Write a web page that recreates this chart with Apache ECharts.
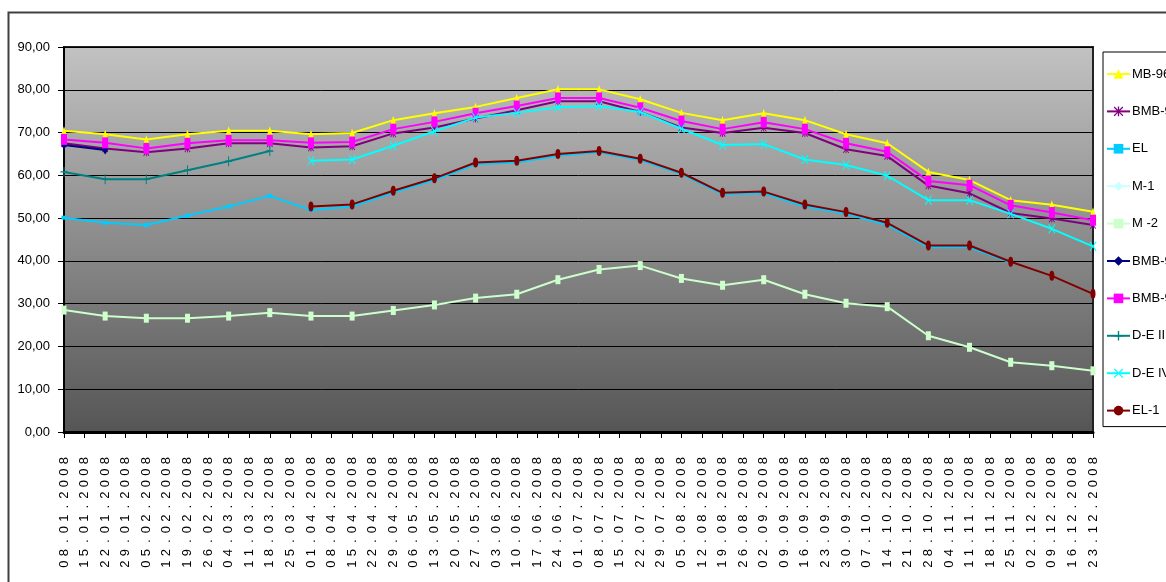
<!DOCTYPE html>
<html><head><meta charset="utf-8">
<script src="https://cdn.jsdelivr.net/npm/echarts@6/dist/echarts.min.js"></script>
<style>html,body{margin:0;padding:0;background:#fff}#c{width:1166px;height:582px}</style>
</head><body><div id="c"></div>
<script>
// Tick labels on the category axis (weekly)
const dates = ['08.01.2008','15.01.2008','22.01.2008','29.01.2008','05.02.2008','12.02.2008','19.02.2008','26.02.2008',
'04.03.2008','11.03.2008','18.03.2008','25.03.2008','01.04.2008','08.04.2008','15.04.2008','22.04.2008','29.04.2008',
'06.05.2008','13.05.2008','20.05.2008','27.05.2008','03.06.2008','10.06.2008','17.06.2008','24.06.2008','01.07.2008',
'08.07.2008','15.07.2008','22.07.2008','29.07.2008','05.08.2008','12.08.2008','19.08.2008','26.08.2008','02.09.2008',
'09.09.2008','16.09.2008','23.09.2008','30.09.2008','07.10.2008','14.10.2008','21.10.2008','28.10.2008','04.11.2008',
'11.11.2008','18.11.2008','25.11.2008','02.12.2008','09.12.2008','16.12.2008','23.12.2008'];
// Measurement dates (every second week)
const sampleDates = ['08.01.2008','22.01.2008','05.02.2008','19.02.2008','04.03.2008','18.03.2008','01.04.2008','15.04.2008',
'29.04.2008','13.05.2008','27.05.2008','10.06.2008','24.06.2008','08.07.2008','22.07.2008','05.08.2008','19.08.2008',
'02.09.2008','16.09.2008','30.09.2008','14.10.2008','28.10.2008','11.11.2008','25.11.2008','09.12.2008','23.12.2008'];

const yTicks = [0,10,20,30,40,50,60,70,80,90];

const mb96  = [70.4,69.6,68.4,69.6,70.4,70.4,69.6,69.9,72.9,74.5,76.0,78.1,80.1,80.1,77.8,74.6,72.9,74.5,72.9,69.6,67.5,60.8,58.9,54.2,53.1,51.5];
const bmb95 = [67.5,66.3,65.4,66.3,67.5,67.5,66.5,66.8,69.8,71.2,73.3,75.2,77.3,77.3,74.8,71.2,69.9,71.1,69.9,66.1,64.5,57.6,55.8,51.2,49.9,48.4];
const el    = [50.1,48.9,48.4,50.6,52.7,55.2,51.9,52.7,56.0,58.9,62.6,63.0,64.6,65.4,63.6,60.3,55.6,55.8,52.7,51.0,48.4,43.2,43.2,39.6,null,null];
const m1    = [null,null,null,null,null,null,null,null,null,null,null,null,null,null,null,null,null,null,null,null,null,null,null,null,null,null];
const m2    = [28.5,27.1,26.6,26.6,27.1,27.9,27.1,27.1,28.4,29.7,31.3,32.2,35.6,38.0,38.9,35.9,34.3,35.6,32.2,30.1,29.3,22.5,19.8,16.3,15.5,14.3];
const bmb91 = [67.1,65.9,null,null,null,null,null,null,null,null,null,null,null,null,null,null,null,null,null,null,null,null,null,null,null,null];
const bmb98 = [68.4,67.6,66.3,67.5,68.2,68.2,67.6,67.8,70.8,72.5,74.5,76.2,78.1,78.1,75.8,72.7,70.8,72.4,70.8,67.5,65.5,58.7,57.7,53.0,51.3,49.5];
const de3   = [60.8,59.1,59.1,61.2,63.3,65.7,null,null,null,null,null,null,null,null,null,null,null,null,null,null,null,null,null,null,null,null];
const de4   = [null,null,null,null,null,null,63.4,63.7,66.9,70.3,73.5,74.6,75.9,76.2,74.8,70.9,67.1,67.3,63.7,62.4,59.9,54.2,54.2,51.0,47.5,43.4];
const el1   = [null,null,null,null,null,null,52.7,53.2,56.4,59.3,63.0,63.4,65.0,65.7,63.9,60.6,55.9,56.2,53.2,51.4,48.9,43.6,43.6,39.8,36.5,32.3];

const names = ['MB-96','BMB-95','EL','M-1','M -2','BMB-91','BMB-98','D-E III','D-E IV','EL-1'];
const values = [mb96,bmb95,el,m1,m2,bmb91,bmb98,de3,de4,el1];

const X_PATH = 'path://M0,0.9 L0.9,0 L5,4.1 L9.1,0 L10,0.9 L5.9,5 L10,9.1 L9.1,10 L5,5.9 L0.9,10 L0,9.1 L4.1,5 Z';
const STAR_PATH = X_PATH + ' M4.3,0 L5.7,0 L5.7,10 L4.3,10 Z';
const PLUS_PATH = 'path://M4.3,0 L5.7,0 L5.7,4.3 L10,4.3 L10,5.7 L5.7,5.7 L5.7,10 L4.3,10 L4.3,5.7 L0,5.7 L0,4.3 L4.3,4.3 Z';

const styles = [
  {color:'#FFFF00', symbol:'triangle', size:[6,9]},
  {color:'#800080', symbol:STAR_PATH, size:[6,8]},
  {color:'#00CCFF', symbol:'rect', size:[5,4]},
  {color:'#CCFFFF', symbol:'diamond', size:[6,9]},
  {color:'#CCFFCC', symbol:'rect', size:[5,9]},
  {color:'#000080', symbol:'diamond', size:[6,9]},
  {color:'#FF00FF', symbol:'rect', size:[6,11]},
  {color:'#008080', symbol:PLUS_PATH, size:[7,10]},
  {color:'#00FFFF', symbol:X_PATH, size:[7,10]},
  {color:'#800000', symbol:'circle', size:[5,10]}
];

const FONT = "'Liberation Sans Narrow','Arial Narrow','Liberation Sans',Arial,sans-serif";

const series = names.map((n, k) => ({
  name: n,
  type: 'line',
  data: values[k].map((v, i) => [sampleDates[i], v]).filter(d => d[1] !== null),
  symbol: styles[k].symbol,
  symbolSize: styles[k].size,
  showAllSymbol: true,
  lineStyle: {color: styles[k].color, width: 2},
  itemStyle: {color: styles[k].color, borderWidth: 0},
  z: 2 + k
}));

const chart = echarts.init(document.getElementById('c'), null, {renderer: 'canvas'});
chart.setOption({
  animation: false,
  backgroundColor: '#ffffff',
  graphic: [{
    type: 'rect', left: 6, top: 10, z: -1,
    shape: {x: 0, y: 0, width: 1200, height: 620},
    style: {fill: 'none', stroke: '#404040', lineWidth: 2}
  }],
  grid: {
    left: 64, top: 47, right: 73, bottom: 150,
    show: true,
    borderColor: '#222', borderWidth: 2,
    backgroundColor: new echarts.graphic.LinearGradient(0, 0, 0, 1, [
      {offset: 0, color: '#c2c2c2'}, {offset: 1, color: '#555555'}
    ])
  },
  legend: {
    orient: 'vertical', left: 1103, top: 52,
    padding: [15, 8, 9, 3],
    itemGap: 23.4, itemWidth: 23, itemHeight: 12,
    backgroundColor: '#ffffff', borderColor: '#000', borderWidth: 1, borderRadius: 0,
    textStyle: {fontFamily: FONT, fontSize: 13, lineHeight: 14, color: '#000', padding: [0,0,0,-3]},
    data: names
  },
  xAxis: {
    type: 'category', data: dates, boundaryGap: false,
    axisLine: {lineStyle: {color: '#000', width: 3}},
    axisTick: {show: true, interval: 0, length: 6, lineStyle: {color: '#000', width: 1}},
    axisLabel: {
      interval: 0, rotate: 90, margin: 23, color: '#000',
      formatter: v => v.split('').map(ch => '{c|' + ch + '}').join(''),
      rich: {c: {width: 11.5, align: 'center', fontSize: 13, fontFamily: "'Liberation Sans',Arial,sans-serif", color: '#000'}}
    },
    splitLine: {show: false}
  },
  yAxis: {
    type: 'value', min: yTicks[0], max: yTicks[yTicks.length - 1], interval: 10,
    axisLine: {show: true, lineStyle: {color: '#000', width: 2}},
    axisTick: {show: true, length: 6, lineStyle: {color: '#000'}},
    axisLabel: {
      margin: 14, color: '#000', fontSize: 13, fontFamily: FONT,
      formatter: v => v.toFixed(2).replace('.', ',')
    },
    splitLine: {show: true, lineStyle: {color: '#000', width: 1}}
  },
  series: series
});
</script>
</body></html>
